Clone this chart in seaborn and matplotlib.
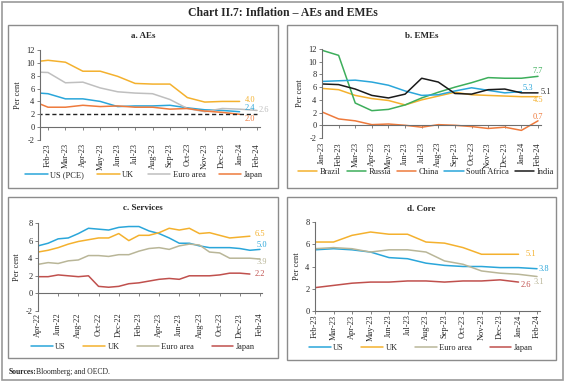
import numpy as np
import pandas as pd
import seaborn as sns
import matplotlib
matplotlib.use("Agg")
import matplotlib.pyplot as plt
from matplotlib.patches import Rectangle
from matplotlib.lines import Line2D

# ---------------- data ----------------
# Panel a: AEs headline (Jan-23 .. Feb-24)
months_a = ["Jan-23", "Feb-23", "Mar-23", "Apr-23", "May-23", "Jun-23", "Jul-23",
            "Aug-23", "Sep-23", "Oct-23", "Nov-23", "Dec-23", "Jan-24", "Feb-24"]
a_us = [5.4, 5.2, 4.4, 4.4, 4.0, 3.2, 3.3, 3.3, 3.4, 3.0, 2.7, 2.6, 2.4]
a_uk = [10.1, 10.4, 10.1, 8.7, 8.7, 7.9, 6.8, 6.7, 6.7, 4.6, 3.9, 4.0, 4.0]
a_euro = [8.6, 8.5, 6.9, 7.0, 6.1, 5.5, 5.3, 5.2, 4.3, 2.9, 2.4, 2.9, 2.8, 2.6]
a_japan = [4.2, 3.1, 3.1, 3.4, 3.2, 3.3, 3.1, 3.1, 2.8, 2.9, 2.5, 2.3, 2.0]
a_target = 2.0
a_ticklabels = months_a[1:]

# Panel b: EMEs (Jan-23 .. Feb-24)
months_b = months_a
b_brazil = [5.8, 5.6, 4.7, 4.2, 3.9, 3.2, 4.0, 4.6, 5.2, 4.8, 4.7, 4.6, 4.5, 4.5]
b_russia = [11.8, 11.0, 3.5, 2.3, 2.5, 3.2, 4.3, 5.2, 6.0, 6.7, 7.5, 7.4, 7.4, 7.7]
b_china = [2.1, 1.0, 0.7, 0.1, 0.2, 0.0, -0.3, 0.1, 0.0, -0.2, -0.5, -0.3, -0.8, 0.7]
b_safrica = [6.9, 7.0, 7.1, 6.8, 6.3, 5.4, 4.7, 4.8, 5.4, 5.9, 5.5, 5.1, 5.3]
b_india = [6.5, 6.4, 5.7, 4.7, 4.3, 4.9, 7.4, 6.8, 5.0, 4.9, 5.6, 5.7, 5.1, 5.1]

# Panel c: Services (Apr-22 .. Feb-24)
months_c = ["Apr-22", "May-22", "Jun-22", "Jul-22", "Aug-22", "Sep-22", "Oct-22",
            "Nov-22", "Dec-22", "Jan-23", "Feb-23", "Mar-23", "Apr-23", "May-23",
            "Jun-23", "Jul-23", "Aug-23", "Sep-23", "Oct-23", "Nov-23", "Dec-23",
            "Jan-24", "Feb-24"]
c_us = [5.4, 5.7, 6.2, 6.3, 6.8, 7.4, 7.3, 7.2, 7.5, 7.6, 7.6, 7.1, 6.8, 6.3,
        5.7, 5.7, 5.4, 5.2, 5.2, 5.2, 5.1, 4.9, 5.0]
c_uk = [4.7, 4.9, 5.2, 5.6, 5.9, 6.1, 6.3, 6.3, 6.8, 6.0, 6.6, 6.6, 6.9, 7.4,
        7.2, 7.4, 6.8, 6.9, 6.6, 6.3, 6.4, 6.5]
c_euro = [3.3, 3.5, 3.4, 3.7, 3.8, 4.3, 4.3, 4.2, 4.4, 4.4, 4.8, 5.1, 5.2, 5.0,
          5.4, 5.6, 5.5, 4.7, 4.6, 4.0, 4.0, 4.0, 3.9]
c_japan = [1.9, 1.9, 2.1, 2.0, 1.9, 2.0, 0.8, 0.7, 0.8, 1.1, 1.2, 1.4, 1.6, 1.7,
           1.6, 2.0, 2.0, 2.0, 2.1, 2.3, 2.3, 2.2]

# Panel d: Core (Feb-23 .. Feb-24)
months_d = months_a[1:]
d_us = [5.5, 5.6, 5.5, 5.3, 4.8, 4.7, 4.3, 4.1, 4.0, 4.0, 3.9, 3.9, 3.8]
d_uk = [6.2, 6.2, 6.8, 7.1, 6.9, 6.9, 6.2, 6.1, 5.7, 5.1, 5.1, 5.1]
d_euro = [5.6, 5.7, 5.6, 5.3, 5.5, 5.5, 5.3, 4.5, 4.2, 3.6, 3.4, 3.3, 3.1]
d_japan = [2.1, 2.3, 2.5, 2.6, 2.6, 2.7, 2.7, 2.6, 2.7, 2.7, 2.8, 2.6]

# ---------------- style ----------------
sns.set_theme(style="white")
plt.rcParams["font.family"] = ["Liberation Serif", "DejaVu Serif"]

BLUE = "#2AA6DA"
GOLD = "#F4B12E"
GRAY = "#BFBFBF"
KHAKI = "#B9B698"
ORANGE = "#EE7A3C"
RED = "#C0504D"
GREEN = "#3DAE5B"
BLACK = "#1A1A1A"
AXC = "#6E6E6E"

W, H = 565, 382
fig = plt.figure(figsize=(W / 100, H / 100), dpi=100)


def fx(px):
    return px / W


def fy(py):
    return 1 - py / H


def add_box(x0, y0, x1, y1, lw=1.0, color="#8C8C8C"):
    r = Rectangle((fx(x0), fy(y1)), fx(x1) - fx(x0), fy(y0) - fy(y1),
                  transform=fig.transFigure, fill=False, lw=lw, ec=color)
    fig.patches.append(r)


def make_ax(l, t, r, b):
    return fig.add_axes([fx(l), fy(b), fx(r) - fx(l), fy(t) - fy(b)])


def long_df(series):
    rows = []
    for name, vals in series:
        for i, v in enumerate(vals):
            rows.append({"x": i, "value": v, "series": name})
    return pd.DataFrame(rows)


def style_ax(ax, ylim, yticks, xlim, xticks, xlabels, zero_axis, pad):
    for s in ["top", "right"]:
        ax.spines[s].set_visible(False)
    for s in ["left", "bottom"]:
        ax.spines[s].set_color(AXC)
        ax.spines[s].set_linewidth(0.8)
    if zero_axis:
        ax.spines["bottom"].set_position(("data", 0))
    ax.set_xlim(*xlim)
    ax.set_ylim(*ylim)
    ax.set_yticks(yticks)
    ax.set_yticklabels([str(v) for v in yticks], fontsize=6)
    ax.set_xticks(xticks)
    ax.set_xticklabels(xlabels, rotation=90, fontsize=6)
    ax.tick_params(axis="x", length=2, width=0.6, color=AXC, pad=pad, labelsize=6,
                   bottom=True, labelrotation=90)
    ax.tick_params(axis="y", length=2, width=0.6, color=AXC, pad=2, labelsize=6,
                   left=True)
    ax.set_xlabel("")
    ax.set_ylabel("Per cent", fontsize=6, labelpad=3)
    ax.grid(False)


def draw(ax, series, palette, offset=0):
    df = long_df(series)
    df["x"] = df["x"] + offset
    sns.lineplot(data=df, x="x", y="value", hue="series", palette=palette,
                 hue_order=[n for n, _ in series], linewidth=1.1, legend=False,
                 ax=ax, estimator=None, sort=False)


def legend(names, colors, cx, cy, colsp=1.8, hl=2.6):
    handles = [Line2D([0], [0], color=c, lw=1.1) for c in colors]
    fig.legend(handles, names, loc="center", bbox_to_anchor=(fx(cx), fy(cy)),
               ncol=len(names), frameon=False, fontsize=6, handlelength=hl,
               handletextpad=0.3, columnspacing=colsp, borderaxespad=0,
               borderpad=0)


# outer border and panel boxes
add_box(2, 2, 563, 380, lw=1.2, color="#9A9A9A")
add_box(8, 25, 278, 188)
add_box(287, 25, 557, 188)
add_box(8, 197, 278, 358)
add_box(287, 197, 556, 360)

fig.text(fx(283), fy(13), "Chart II.7: Inflation \u2013 AEs and EMEs",
         ha="center", va="center", fontsize=8.5, fontweight="bold")

# ---------- panel a ----------
ax = make_ax(40, 50, 260, 140)
draw(ax, [("US (PCE)", a_us), ("UK", a_uk), ("Euro area", a_euro), ("Japan", a_japan)],
     {"US (PCE)": BLUE, "UK": GOLD, "Euro area": GRAY, "Japan": ORANGE})
ax.hlines(a_target, 0, len(months_a) - 1, colors="#222222", linestyles=(0, (3, 2)),
          lw=1.0)
style_ax(ax, (-2, 12), list(range(-2, 13, 2)), (0.54, 13.17),
         list(range(1, len(months_a))), a_ticklabels, True, 9.5)
ax.text(len(a_uk) - 1 + 0.3, a_uk[-1] + 0.25, f"{a_uk[-1]:.1f}", color=GOLD, fontsize=6,
        va="center", ha="left")
ax.text(len(a_us) - 1 + 0.3, a_us[-1] + 0.55, f"{a_us[-1]:.1f}", color=BLUE, fontsize=6,
        va="center", ha="left")
ax.text(len(a_euro) - 1 + 0.1, a_euro[-1], f"{a_euro[-1]:.1f}", color=GRAY, fontsize=6,
        va="center", ha="left", clip_on=False)
ax.text(len(a_japan) - 1 + 0.3, a_japan[-1] - 0.75, f"{a_japan[-1]:.1f}", color=ORANGE,
        fontsize=6, va="center", ha="left")
fig.text(fx(143), fy(36), "a. AEs", ha="center", va="center", fontsize=6.5,
         fontweight="bold")
legend(["US (PCE)", "UK", "Euro area", "Japan"], [BLUE, GOLD, GRAY, ORANGE], 144, 175,
       colsp=1.6, hl=2.7)

# ---------- panel b ----------
ax = make_ax(322, 49, 541, 138)
draw(ax, [("Brazil", b_brazil), ("Russia", b_russia), ("China", b_china),
          ("South Africa", b_safrica), ("India", b_india)],
     {"Brazil": GOLD, "Russia": GREEN, "China": ORANGE, "South Africa": BLUE,
      "India": BLACK})
style_ax(ax, (-2, 12), list(range(-2, 13, 2)), (0, 13.18),
         list(range(len(months_b))), months_b, True, 10)
ax.text(len(b_russia) - 1, b_russia[-1] + 0.8, f"{b_russia[-1]:.1f}", color=GREEN,
        fontsize=6, va="center", ha="center", clip_on=False)
ax.text(len(b_safrica) - 1 + 0.4, b_safrica[-1] + 0.5, f"{b_safrica[-1]:.1f}",
        color=BLUE, fontsize=6, va="center", ha="center")
ax.text(len(b_india) - 1 + 0.15, b_india[-1] + 0.2, f"{b_india[-1]:.1f}", color="#333333",
        fontsize=6, va="center", ha="left", clip_on=False)
ax.text(len(b_brazil) - 1, b_brazil[-1] - 0.6, f"{b_brazil[-1]:.1f}", color=GOLD,
        fontsize=6, va="center", ha="center", clip_on=False)
ax.text(len(b_china) - 1, b_china[-1] + 0.6, f"{b_china[-1]:.1f}", color=ORANGE,
        fontsize=6, va="center", ha="center", clip_on=False)
fig.text(fx(422), fy(36), "b. EMEs", ha="center", va="center", fontsize=6.5,
         fontweight="bold")
legend(["Brazil", "Russia", "China", "South Africa", "India"],
       [GOLD, GREEN, ORANGE, BLUE, BLACK], 426, 172, colsp=0.7, hl=2.3)

# ---------- panel c ----------
ax = make_ax(38, 223, 262, 311)
draw(ax, [("US", c_us), ("UK", c_uk), ("Euro area", c_euro), ("Japan", c_japan)],
     {"US": BLUE, "UK": GOLD, "Euro area": KHAKI, "Japan": RED})
style_ax(ax, (-2, 8), list(range(-2, 9, 2)), (0, 22.2),
         list(range(0, len(months_c), 2)), months_c[::2], True, 12)
ax.text(len(c_uk) - 1 + 0.5, c_uk[-1] + 0.3, f"{c_uk[-1]:.1f}", color=GOLD, fontsize=6,
        va="center", ha="left")
ax.text(len(c_us) - 1 + 0.2, c_us[-1] + 0.5, f"{c_us[-1]:.1f}", color=BLUE, fontsize=6,
        va="center", ha="center", clip_on=False)
ax.text(len(c_euro) - 1 + 0.2, c_euro[-1] - 0.35, f"{c_euro[-1]:.1f}", color=KHAKI,
        fontsize=6, va="center", ha="center", clip_on=False)
ax.text(len(c_japan) - 1 + 0.5, c_japan[-1], f"{c_japan[-1]:.1f}", color=RED,
        fontsize=6, va="center", ha="left")
fig.text(fx(143), fy(208), "c. Services", ha="center", va="center", fontsize=6.5,
         fontweight="bold")
legend(["US", "UK", "Euro area", "Japan"], [BLUE, GOLD, KHAKI, RED], 143, 347,
       colsp=2.1, hl=2.6)

# ---------- panel d ----------
ax = make_ax(315, 222, 540, 311)
draw(ax, [("US", d_us), ("UK", d_uk), ("Euro area", d_euro), ("Japan", d_japan)],
     {"US": BLUE, "UK": GOLD, "Euro area": KHAKI, "Japan": RED})
style_ax(ax, (0, 8), list(range(0, 9, 2)), (0, 12.16),
         list(range(len(months_d))), months_d, False, 0.5)
ax.text(len(d_uk) - 1 + 0.4, d_uk[-1], f"{d_uk[-1]:.1f}", color=GOLD, fontsize=6,
        va="center", ha="left")
ax.text(len(d_us) - 1 + 0.1, d_us[-1], f"{d_us[-1]:.1f}", color=BLUE, fontsize=6,
        va="center", ha="left", clip_on=False)
ax.text(len(d_euro) - 1 + 0.1, d_euro[-1] - 0.45, f"{d_euro[-1]:.1f}", color=KHAKI,
        fontsize=6, va="center", ha="center", clip_on=False)
ax.text(len(d_japan) - 1 + 0.1, d_japan[-1] - 0.3, f"{d_japan[-1]:.1f}", color=RED,
        fontsize=6, va="center", ha="left")
fig.text(fx(421), fy(209), "d. Core", ha="center", va="center", fontsize=6.5,
         fontweight="bold")
legend(["US", "UK", "Euro area", "Japan"], [BLUE, GOLD, KHAKI, RED], 421, 347.5,
       colsp=2.1, hl=2.6)

# source
fig.text(fx(9), fy(372), "Sources:", ha="left", va="center", fontsize=5.5,
         fontweight="bold")
fig.text(fx(36), fy(372), "Bloomberg; and OECD.", ha="left", va="center", fontsize=5.5)

fig.savefig("out.png", dpi=100)
